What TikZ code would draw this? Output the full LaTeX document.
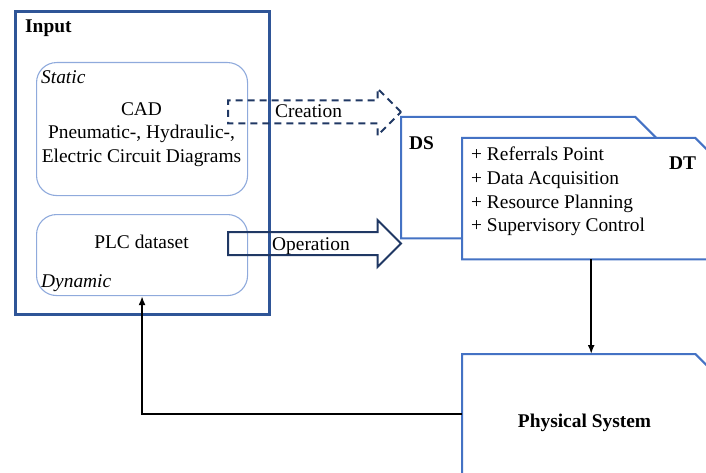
\documentclass[tikz,border=0pt]{standalone}
\usepackage{fontspec}
\setmainfont{Liberation Serif}
\usetikzlibrary{arrows.meta,shapes.arrows}
\definecolor{frameblue}{RGB}{47,85,151}
\definecolor{boxblue}{RGB}{68,114,196}
\definecolor{paleblue}{RGB}{143,170,220}
\definecolor{navy}{RGB}{32,56,100}
\tikzset{
  txt/.style = {font=\fontsize{19.4}{23.6}\selectfont, inner sep=0pt},
  frame/.style = {draw=frameblue, line width=2.8pt, inner sep=0pt, anchor=north west},
  roundbox/.style = {draw=paleblue, line width=1.1pt, rounded corners=20pt,
                     inner sep=0pt, anchor=north west},
  hold/.style = {inner sep=0pt, anchor=north west},
  snipbox/.style = {draw=boxblue, fill=white, line width=2pt},
  blockarrow/.style = {single arrow, draw=navy, line width=2pt, inner sep=0pt,
                       inner ysep=10.5pt, single arrow head extend=12pt,
                       minimum height=173pt, anchor=tail},
  conn/.style = {draw=black, line width=2pt, -{Latex[length=9pt,width=7pt]}}
}
\begin{document}
\begin{tikzpicture}[x=1pt, y=-1pt]
  \useasboundingbox (0,0) rectangle (706,473);
  \clip (0,0) rectangle (706,473);

  \node [frame, minimum width=254pt, minimum height=303pt] (input) at (14,10) {};
  \node [roundbox, minimum width=211pt, minimum height=133pt] (static) at (36,62) {};
  \node [roundbox, minimum width=211pt, minimum height=81pt] (dyn) at (36,214) {};
  \node [txt, anchor=base west] (inputlbl) at (25,33) {\bfseries Input};
  \node [txt, anchor=base west] (staticlbl) at (41,84) {\itshape Static};
  \node [txt, anchor=base west] (dynlbl) at (41,287) {\itshape Dynamic};
  \node [txt, anchor=north, align=center] (cad) at (141.5,102)
    {CAD\\Pneumatic-, Hydraulic-,\\Electric Circuit Diagrams};
  \node [txt, anchor=base] (plc) at (141.5,248) {PLC dataset};

  \node [blockarrow, dash pattern=on 7pt off 5pt] (creation) at (227,112) {};
  \node [blockarrow] (operation) at (227,243.5) {};
  \node [txt, anchor=base west] (creationlbl) at (275,118) {Creation};
  \node [txt, anchor=base west] (operationlbl) at (272,250) {Operation};

  \node [hold, minimum width=259pt, minimum height=121pt] (ds) at (401,117) {};
  \draw [snipbox] (ds.south west) -- (ds.north west) -- ([xshift=-25pt]ds.north east)
    -- ([yshift=-25pt]ds.north east) -- (ds.south east) -- cycle;
  \node [txt, anchor=base west] (dslbl) at (409,150) {\bfseries DS};

  \node [hold, minimum width=258pt, minimum height=121pt] (dt) at (462,138) {};
  \draw [snipbox] (dt.south west) -- (dt.north west) -- ([xshift=-25pt]dt.north east)
    -- ([yshift=-25pt]dt.north east) -- (dt.south east) -- cycle;
  \node [txt, anchor=base west] (dtlbl) at (669,170) {\bfseries DT};
  \node [txt, anchor=north west, align=left] (tasks) at (471,147)
    {+ Referrals Point\\+ Data Acquisition\\+ Resource Planning\\+ Supervisory Control};

  \node [hold, minimum width=258pt, minimum height=120pt] (phys) at (462,354) {};
  \draw [snipbox] (phys.south west) -- (phys.north west) -- ([xshift=-25pt]phys.north east)
    -- ([yshift=-25pt]phys.north east) -- (phys.south east) -- cycle;
  \node [txt, anchor=base] (physlbl) at (584.5,427) {\bfseries Physical System};

  \draw [conn] (dt.south) -- (phys.north);
  \draw [conn] (phys.west) -| (dyn.south);
\end{tikzpicture}
\end{document}
